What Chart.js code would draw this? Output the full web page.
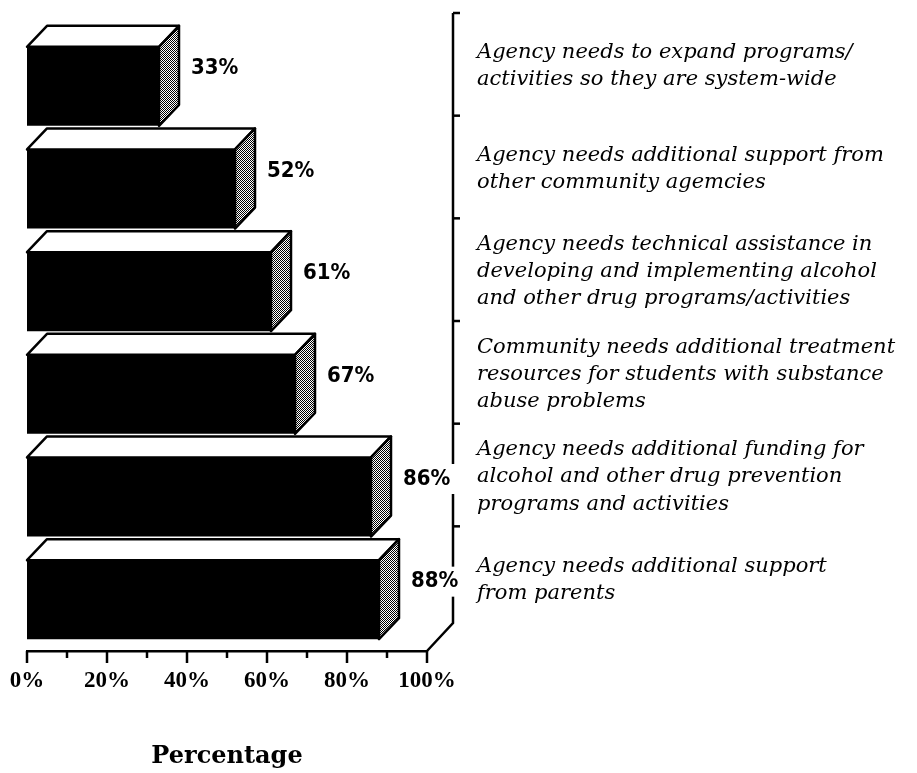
<!DOCTYPE html>
<html>
<head>
<meta charset="utf-8">
<script src="https://cdn.jsdelivr.net/npm/chart.js@4"></script>
<style>
  body { margin: 0; background: #fff; }
  #bars { display: block; }
</style>
</head>
<body>
<canvas id="bars" width="917" height="773"></canvas>
<script>
// survey needs, top to bottom
const needLabels = [
    ['Agency needs to expand programs/', 'activities so they are system-wide'],
    ['Agency needs additional support from', 'other community agemcies'],
    ['Agency needs technical assistance in', 'developing and implementing alcohol', 'and other drug programs/activities'],
    ['Community needs additional treatment', 'resources for students with substance', 'abuse problems'],
    ['Agency needs additional funding for', 'alcohol and other drug prevention', 'programs and activities'],
    ['Agency needs additional support', 'from parents'],
]
const needPercents = [33, 52, 61, 67, 86, 88]
const percentTicks = [0, 20, 40, 60, 80, 100]

// depth of the fake 3d boxes and of the floor
const DEPTH_X = 20
const DEPTH_Y = 21
const FLOOR_X = 26
const FLOOR_Y = 28

// stipple for the side faces
function makeStipple() {
    const c = document.createElement('canvas')
    c.width = 4
    c.height = 4
    const g = c.getContext('2d')
    g.fillStyle = '#fff'
    g.fillRect(0, 0, 4, 4)
    g.fillStyle = '#000'
    g.fillRect(0, 0, 1, 1)
    g.fillRect(2, 0, 1, 1)
    g.fillRect(1, 1, 1, 1)
    g.fillRect(3, 1, 1, 1)
    g.fillRect(0, 2, 1, 1)
    g.fillRect(2, 2, 1, 1)
    g.fillRect(1, 3, 1, 1)
    g.fillRect(3, 3, 1, 1)
    return g.createPattern(c, 'repeat')
}

const boxFaces = {
    id: 'boxFaces',
    afterDatasetsDraw(chart) {
        const ctx = chart.ctx
        const stipple = makeStipple()
        chart.getDatasetMeta(0).data.forEach(bar => {
            const { x, y, base, height } = bar.getProps(['x', 'y', 'base', 'height'], true)
            const top = y - height / 2
            const bottom = y + height / 2
            ctx.save()
            ctx.lineWidth = 2.5
            ctx.lineJoin = 'round'
            ctx.strokeStyle = '#000'
            // top face
            ctx.beginPath()
            ctx.moveTo(base, top)
            ctx.lineTo(base + DEPTH_X, top - DEPTH_Y)
            ctx.lineTo(x + DEPTH_X, top - DEPTH_Y)
            ctx.lineTo(x, top)
            ctx.closePath()
            ctx.fillStyle = '#fff'
            ctx.fill()
            ctx.stroke()
            // side face
            ctx.beginPath()
            ctx.moveTo(x, top)
            ctx.lineTo(x + DEPTH_X, top - DEPTH_Y)
            ctx.lineTo(x + DEPTH_X, bottom - DEPTH_Y)
            ctx.lineTo(x, bottom)
            ctx.closePath()
            ctx.fillStyle = stipple
            ctx.fill()
            ctx.stroke()
            ctx.restore()
        })
    },
    afterDraw(chart) {
        const ctx = chart.ctx
        const { left, right, top, bottom } = chart.chartArea
        const xs = chart.scales.x
        ctx.save()
        ctx.strokeStyle = '#000'
        ctx.lineWidth = 2.5
        ctx.lineCap = 'butt'

        // tick marks under the percent axis
        for (let v = 0; v <= 100; v += 10) {
            const px = xs.getPixelForValue(v)
            ctx.beginPath()
            ctx.moveTo(px, bottom)
            ctx.lineTo(px, bottom + (percentTicks.includes(v) ? 12 : 7))
            ctx.stroke()
        }

        // back wall bracket with the floor corner
        const wallX = right + FLOOR_X
        const step = (bottom - top) / needLabels.length
        ctx.beginPath()
        ctx.moveTo(wallX, top - 22)
        ctx.lineTo(wallX, bottom - FLOOR_Y)
        ctx.lineTo(right, bottom)
        ctx.stroke()
        for (let i = 0; i < needLabels.length; i++) {
            const py = top + i * step - 22
            ctx.beginPath()
            ctx.moveTo(wallX, py)
            ctx.lineTo(wallX + 7, py)
            ctx.stroke()
        }

        // value labels next to each box
        ctx.font = '600 22px "Liberation Sans Narrow", "DejaVu Sans Condensed", "Liberation Sans", sans-serif'
        ctx.textAlign = 'left'
        ctx.textBaseline = 'middle'
        chart.getDatasetMeta(0).data.forEach((bar, i) => {
            const { x, y } = bar.getProps(['x', 'y'], true)
            const text = needPercents[i] + '%'
            const tx = x + DEPTH_X + 12
            const ty = y - 18
            const w = ctx.measureText(text).width
            ctx.fillStyle = '#fff'
            ctx.fillRect(tx - 4, ty - 15, w + 16, 30)
            ctx.fillStyle = '#000'
            ctx.fillText(text, tx, ty)
        })
        ctx.restore()
    },
}

const barConfig = {
    type: 'bar',
    data: {
        labels: needLabels,
        datasets: [
            {
                data: needPercents,
                backgroundColor: '#000',
                borderWidth: 0,
                categoryPercentage: 0.77,
                barPercentage: 1,
            },
        ],
    },
    options: {
        indexAxis: 'y',
        responsive: false,
        animation: false,
        layout: {
            padding: { top: 35, left: 27, right: 0, bottom: 0 },
        },
        plugins: {
            legend: { display: false },
            tooltip: { enabled: false },
        },
        scales: {
            x: {
                type: 'linear',
                min: 0,
                max: 100,
                afterFit: scale => {
                    scale.height = 122
                    scale.paddingLeft = 0
                    scale.paddingRight = 0
                },
                grid: { display: false, drawTicks: false },
                border: { display: true, color: '#000', width: 2.5 },
                ticks: {
                    stepSize: 10,
                    autoSkip: false,
                    maxRotation: 0,
                    padding: 16,
                    color: '#000',
                    font: { family: '"Liberation Serif", serif', size: 23, weight: 'bold' },
                    callback: v => (percentTicks.includes(v) ? v + '%' : ''),
                },
                title: {
                    display: true,
                    text: 'Percentage',
                    color: '#000',
                    font: { family: '"DejaVu Serif", serif', size: 24, weight: 'bold' },
                    padding: { top: 0, bottom: 2 },
                },
            },
            y: {
                position: 'right',
                afterFit: scale => {
                    scale.width = 490
                    scale.paddingTop = 0
                    scale.paddingBottom = 0
                },
                grid: { display: false, drawTicks: false },
                border: { display: false },
                ticks: {
                    autoSkip: false,
                    crossAlign: 'near',
                    padding: 50,
                    labelOffset: -20,
                    color: '#000',
                    font: { family: '"DejaVu Serif", serif', size: 21, style: 'italic', lineHeight: 1.29 },
                },
            },
        },
    },
    plugins: [boxFaces],
}

const barsCtx = document.getElementById('bars')
window.myBar = new Chart(barsCtx, barConfig)
</script>
</body>
</html>
